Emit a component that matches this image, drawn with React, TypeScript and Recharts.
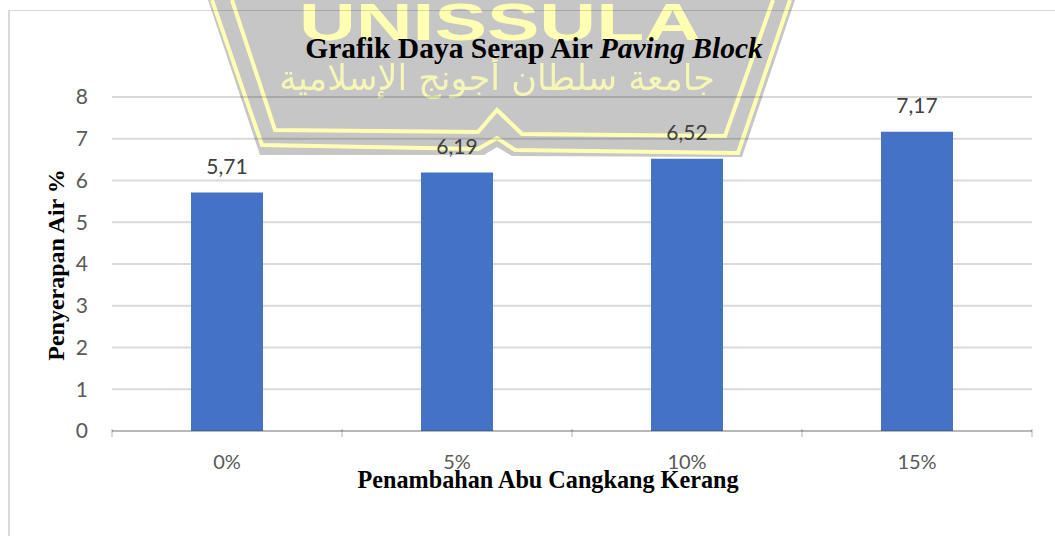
import { Bar, BarChart, CartesianGrid, LabelList, XAxis, YAxis } from 'recharts'

const CATEGORIES = ['0%', '5%', '10%', '15%']
const ABSORPTION = [5.71, 6.19, 6.52, 7.17]
const Y_TICKS = [0, 1, 2, 3, 4, 5, 6, 7, 8]

const TITLE = 'Grafik Daya Serap Air '
const TITLE_ITALIC = 'Paving Block'
const X_TITLE = 'Penambahan Abu Cangkang Kerang'
const Y_TITLE = 'Penyerapan Air %'
const WATERMARK_LATIN = 'UNISSULA'
const WATERMARK_ARABIC = 'جامعة سلطان أجونج الإسلامية'

const chartData = CATEGORIES.map((name, i) => ({ name, value: ABSORPTION[i] }))

const SANS = 'Lato, "Open Sans", sans-serif'
const SERIF = '"Liberation Serif", serif'
const GRID = 'rgba(0,0,0,0.15)'
const BAND = 230
const YELLOW = '#ffffb4'

function BoundaryTick({ x, y, payload, index }: any) {
  return (
    <g>
      <line x1={x - BAND / 2} x2={x - BAND / 2} y1={y - 8} y2={y} stroke={GRID} strokeWidth={2} />
      {index === CATEGORIES.length - 1 && (
        <line x1={x + BAND / 2} x2={x + BAND / 2} y1={y - 8} y2={y} stroke={GRID} strokeWidth={2} />
      )}
      <text x={x} y={y + 32} textAnchor="middle" fontFamily={SANS} fontSize={20} fill="#595959">
        {payload.value}
      </text>
    </g>
  )
}

function Watermark() {
  return (
    <svg width={1055} height={536} style={{ position: 'absolute', left: 0, top: 0, filter: 'blur(0.7px)' }}>
      <polygon points="208,0 260,155 484,155 497,147 512,156 742,157 795,0" fill="#c6c6c6" />
      <polyline
        points="212,0 262,145 478,149 497,138 515,150 738,153 790,0"
        fill="none"
        stroke={YELLOW}
        strokeWidth={4}
      />
      <polyline
        points="232,0 275,130 478,132 497,110 522,134 725,136 773,0"
        fill="none"
        stroke={YELLOW}
        strokeWidth={4}
      />
      <text
        x={299}
        y={40}
        textLength={402}
        lengthAdjust="spacingAndGlyphs"
        fontFamily='"Liberation Sans", sans-serif'
        fontWeight="bold"
        fontSize={52}
        fill={YELLOW}
      >
        {WATERMARK_LATIN}
      </text>
      <text
        x={715}
        y={90}
        textAnchor="start"
        direction="rtl"
        fontFamily='"DejaVu Sans", sans-serif'
        fontSize={35}
        fill={YELLOW}
        opacity={0.85}
      >
        {WATERMARK_ARABIC}
      </text>
    </svg>
  )
}

export default function App() {
  return (
    <div style={{ position: 'absolute', left: 0, top: 0, width: 1055, height: 536, overflow: 'hidden', background: '#fff' }}>
      <Watermark />
      <div
        style={{
          position: 'absolute',
          left: 8,
          top: 10,
          width: 1047,
          height: 526,
          borderLeft: `2px solid ${GRID}`,
          borderTop: `1px solid ${GRID}`,
          boxSizing: 'border-box'
        }}
      />
      <div style={{ position: 'absolute', left: 0, top: 0 }}>
        <BarChart
          width={1055}
          height={536}
          data={chartData}
          margin={{ top: 97, right: 23, bottom: 65, left: 62 }}
        >
          <CartesianGrid vertical={false} stroke={GRID} strokeWidth={2} />
          <XAxis
            dataKey="name"
            height={40}
            axisLine={{ stroke: GRID, strokeWidth: 2 }}
            tickLine={false}
            tick={<BoundaryTick />}
            interval={0}
            tickMargin={0}
          />
          <YAxis
            width={50}
            domain={[0, 8]}
            ticks={Y_TICKS}
            axisLine={false}
            tickLine={false}
            tickMargin={18}
            tick={{ fontFamily: SANS, fontSize: 21, fill: '#595959' }}
          />
          <Bar dataKey="value" fill="#4472c4" barSize={72} isAnimationActive={false}>
            <LabelList
              dataKey="value"
              position="top"
              offset={19}
              formatter={(v: number) => v.toFixed(2).replace('.', ',')}
              style={{ fontFamily: SANS, fontSize: 21, fill: '#404040' }}
            />
          </Bar>
          <text x={534} y={58} textAnchor="middle" fontFamily={SERIF} fontSize={29.5} fontWeight="bold" fill="#000">
            {TITLE}
            <tspan fontStyle="italic">{TITLE_ITALIC}</tspan>
          </text>
          <text x={548} y={488} textAnchor="middle" fontFamily={SERIF} fontSize={24.2} fontWeight="bold" fill="#000">
            {X_TITLE}
          </text>
          <text
            x={0}
            y={0}
            transform="translate(64 265) rotate(-90)"
            textAnchor="middle"
            fontFamily={SERIF}
            fontSize={24}
            fontWeight="bold"
            fill="#000"
          >
            {Y_TITLE}
          </text>
        </BarChart>
      </div>
    </div>
  )
}
